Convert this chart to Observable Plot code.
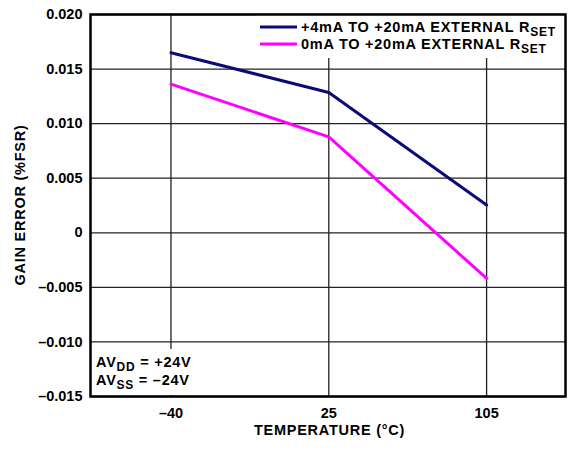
<!DOCTYPE html>
<html><head><meta charset="utf-8">
<script src="https://cdn.jsdelivr.net/npm/d3@7"></script>
<script src="https://cdn.jsdelivr.net/npm/@observablehq/plot@0.6"></script>
<style>
body{margin:0;background:#fff}
#chart svg{font-family:"Liberation Sans",Arial,Helvetica,sans-serif;font-weight:bold;}
</style>
</head><body><div id="chart"></div>
<script>
// ---- data ----
const temperatures = ["–40", "25", "105"];
const series4to20 = [0.0165, 0.01285, 0.00254];
const series0to20 = [0.01362, 0.00879, -0.00418];
const seriesNames = ["+4mA TO +20mA EXTERNAL R|SET", "0mA TO +20mA EXTERNAL R|SET"];
const seriesColors = ["#0a0a78", "#ff00ff"];
const yTicks = [-0.015, -0.010, -0.005, 0, 0.005, 0.010, 0.015, 0.020];
const yTickLabels = ["–0.015", "–0.010", "–0.005", "0", "0.005", "0.010", "0.015", "0.020"];
const xTitle = "TEMPERATURE (°C)";
const yTitle = "GAIN ERROR (%FSR)";
const supplyNotes = ["AV|DD| = +24V", "AV|SS| = –24V"];

// ---- build rows ----
const allSeries = [series4to20, series0to20];
const rows = [];
allSeries.forEach((vals, s) => vals.forEach((v, i) => rows.push({i, v, s: seriesNames[s]})));

const FONT = 14.5, LS = "0.75px", SUB = 12;

function addRich(textSel, str, subSize, subDy) {
  const parts = str.split("|");
  parts.forEach((p, k) => {
    if (!p) return;
    const t = textSel.append("tspan").text(p);
    if (k % 2 === 1) { t.attr("font-size", subSize).attr("dy", subDy); }
    else if (k > 0) { t.attr("dy", -subDy); }
  });
}

function legendMark(index, scales, values, dims) {
  const g = d3.create("svg:g").attr("text-anchor", "start");
  const right = dims.width - dims.marginRight;
  const top = dims.marginTop;
  g.append("rect").attr("x", right - 310).attr("y", top + 1).attr("width", 308).attr("height", 43)
    .attr("fill", "#ffffff").attr("stroke", "none");
  seriesNames.forEach((name, k) => {
    const y = top + 13 + k * 17;
    g.append("line").attr("x1", right - 305).attr("x2", right - 268)
      .attr("y1", y).attr("y2", y).attr("stroke", seriesColors[k]).attr("stroke-width", 3);
    const t = g.append("text").attr("x", right - 264).attr("y", y + 5).attr("text-anchor", "start")
      .attr("font-size", FONT).attr("letter-spacing", LS).attr("fill", "black");
    addRich(t, name, SUB, 4);
  });
  return g.node();
}

function supplyMark(index, scales, values, dims) {
  const g = d3.create("svg:g").attr("text-anchor", "start");
  const left = dims.marginLeft;
  const bottom = dims.height - dims.marginBottom;
  g.append("rect").attr("x", left + 1).attr("y", bottom - 47).attr("width", 110).attr("height", 46).attr("fill", "#ffffff");
  supplyNotes.forEach((note, k) => {
    const t = g.append("text").attr("x", left + 6).attr("y", bottom - 29 + k * 18).attr("text-anchor", "start")
      .attr("font-size", FONT).attr("letter-spacing", LS).attr("fill", "black");
    addRich(t, note, SUB, 4);
  });
  return g.node();
}

function titlesMark(index, scales, values, dims) {
  const g = d3.create("svg:g");
  const left = dims.marginLeft, right = dims.width - dims.marginRight;
  const top = dims.marginTop, bottom = dims.height - dims.marginBottom;
  g.append("text").attr("x", (left + right) / 2 + 2).attr("y", bottom + 38.5)
    .attr("text-anchor", "middle").attr("font-size", FONT).attr("letter-spacing", LS).text(xTitle);
  g.append("text").attr("transform", `translate(25,${(top + bottom) / 2}) rotate(-90)`)
    .attr("text-anchor", "middle").attr("font-size", FONT).attr("letter-spacing", LS).text(yTitle);
  return g.node();
}

const chart = Plot.plot({
  width: 570,
  height: 451,
  marginLeft: 90,
  marginRight: 5,
  marginTop: 14,
  marginBottom: 55,
  style: {fontSize: FONT + "px", fontFamily: "Liberation Sans, Arial, sans-serif", fontWeight: "bold", background: "white", overflow: "visible"},
  x: {domain: [-0.51, 2.5], label: null},
  y: {domain: [-0.015, 0.020], label: null},
  color: {domain: seriesNames, range: seriesColors},
  marks: [
    Plot.gridY(yTicks, {stroke: "#222", strokeOpacity: 1, strokeWidth: 1.3}),
    Plot.gridX([0, 1, 2], {stroke: "#222", strokeOpacity: 1, strokeWidth: 1.3}),
    Plot.line(rows, {x: "i", y: "v", z: "s", stroke: "s", strokeWidth: 3}),
    legendMark,
    supplyMark,
    Plot.axisY(yTicks, {tickSize: 0, tickPadding: 8, tickFormat: (d) => yTickLabels[yTicks.indexOf(d)], label: null, fill: "black", style: {letterSpacing: LS}}),
    Plot.axisX([0, 1, 2], {tickSize: 0, tickPadding: 11, tickFormat: (d) => temperatures[d], label: null, fill: "black", style: {letterSpacing: LS}}),
    titlesMark,
    Plot.frame({stroke: "black", strokeWidth: 2.5})
  ]
});
document.getElementById("chart").appendChild(chart);
</script>
</body></html>
